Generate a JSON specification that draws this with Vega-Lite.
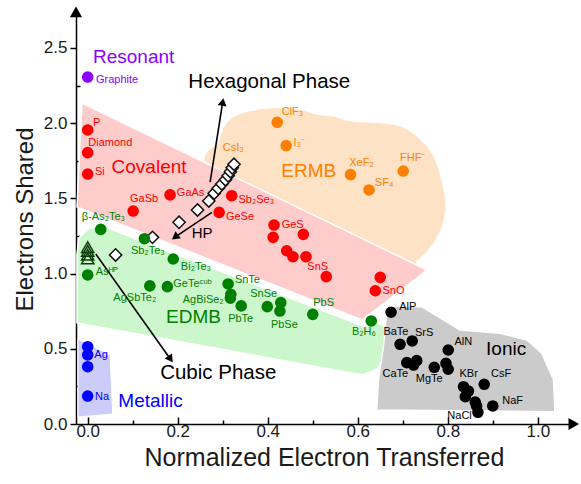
{
  "$schema": "https://vega.github.io/schema/vega-lite/v6.json",
  "width": 496,
  "height": 410,
  "autosize": {"type": "none"},
  "padding": {"left": 76, "top": 14, "right": 9, "bottom": 60},
  "background": "white",
  "config": {
    "font": "Liberation Sans",
    "view": {"stroke": null},
    "axis": {"grid": false, "zindex": 1, "domainColor": "black", "domainWidth": 1.5, "tickColor": "black", "tickWidth": 1.5, "labelColor": "#1a1a1a", "titleColor": "#1a1a1a", "labelFont": "Liberation Sans", "titleFont": "Liberation Sans", "titleFontWeight": "normal"}
  },
  "datasets": {
    "regions": [
      {"r": "orange", "o": 1, "x": 0.2896, "y": 1.656},
      {"r": "orange", "o": 2, "x": 0.294, "y": 1.888},
      {"r": "orange", "o": 3, "x": 0.316, "y": 2.021},
      {"r": "orange", "o": 4, "x": 0.361, "y": 2.077},
      {"r": "orange", "o": 5, "x": 0.42, "y": 2.099},
      {"r": "orange", "o": 6, "x": 0.472, "y": 2.088},
      {"r": "orange", "o": 7, "x": 0.509, "y": 2.055},
      {"r": "orange", "o": 8, "x": 0.546, "y": 2.043},
      {"r": "orange", "o": 9, "x": 0.583, "y": 2.01},
      {"r": "orange", "o": 10, "x": 0.642, "y": 1.999},
      {"r": "orange", "o": 11, "x": 0.694, "y": 1.977},
      {"r": "orange", "o": 12, "x": 0.731, "y": 1.91},
      {"r": "orange", "o": 13, "x": 0.768, "y": 1.777},
      {"r": "orange", "o": 14, "x": 0.79, "y": 1.556},
      {"r": "orange", "o": 15, "x": 0.794, "y": 1.423},
      {"r": "orange", "o": 16, "x": 0.783, "y": 1.29},
      {"r": "orange", "o": 17, "x": 0.761, "y": 1.179},
      {"r": "orange", "o": 18, "x": 0.731, "y": 1.09},
      {"r": "orange", "o": 19, "x": 0.694, "y": 1.057},
      {"r": "red", "o": 1, "x": -0.0127, "y": 2.134},
      {"r": "red", "o": 2, "x": 0.754, "y": 1.024},
      {"r": "red", "o": 3, "x": 0.6096, "y": 0.6915},
      {"r": "red", "o": 4, "x": -0.0238, "y": 1.443},
      {"r": "green", "o": 1, "x": -0.024, "y": 1.124},
      {"r": "green", "o": 2, "x": -0.0193, "y": 1.237},
      {"r": "green", "o": 3, "x": 0.0007, "y": 1.297},
      {"r": "green", "o": 4, "x": 0.0273, "y": 1.323},
      {"r": "green", "o": 5, "x": 0.6162, "y": 0.645},
      {"r": "green", "o": 6, "x": 0.6407, "y": 0.678},
      {"r": "green", "o": 7, "x": 0.6584, "y": 0.652},
      {"r": "green", "o": 8, "x": 0.6629, "y": 0.559},
      {"r": "green", "o": 9, "x": 0.6584, "y": 0.439},
      {"r": "green", "o": 10, "x": 0.6429, "y": 0.366},
      {"r": "green", "o": 11, "x": 0.6096, "y": 0.326},
      {"r": "green", "o": 12, "x": -0.024, "y": 0.672},
      {"r": "gray", "o": 1, "x": 0.668, "y": 0.785},
      {"r": "gray", "o": 2, "x": 0.742, "y": 0.78},
      {"r": "gray", "o": 3, "x": 0.827, "y": 0.625},
      {"r": "gray", "o": 4, "x": 0.916, "y": 0.603},
      {"r": "gray", "o": 5, "x": 0.976, "y": 0.559},
      {"r": "gray", "o": 6, "x": 1.009, "y": 0.47},
      {"r": "gray", "o": 7, "x": 1.035, "y": 0.293},
      {"r": "gray", "o": 8, "x": 1.038, "y": 0.082},
      {"r": "gray", "o": 9, "x": 0.642, "y": 0.093},
      {"r": "gray", "o": 10, "x": 0.646, "y": 0.293},
      {"r": "gray", "o": 11, "x": 0.657, "y": 0.514},
      {"r": "gray", "o": 12, "x": 0.664, "y": 0.736},
      {"r": "blue", "o": 1, "x": -0.0216, "y": 0.565},
      {"r": "blue", "o": 2, "x": 0.0496, "y": 0.459},
      {"r": "blue", "o": 3, "x": 0.0556, "y": 0.0665},
      {"r": "blue", "o": 4, "x": -0.0216, "y": 0.0465}
    ],
    "points": [
      {"g": "Resonant", "x": 0, "y": 2.307},
      {"g": "Covalent", "x": 0, "y": 1.955},
      {"g": "Covalent", "x": 0, "y": 1.804},
      {"g": "Covalent", "x": 0, "y": 1.662},
      {"g": "Covalent", "x": 0.101, "y": 1.416},
      {"g": "Covalent", "x": 0.183, "y": 1.523},
      {"g": "Covalent", "x": 0.32, "y": 1.518},
      {"g": "Covalent", "x": 0.292, "y": 1.407},
      {"g": "Covalent", "x": 0.414, "y": 1.323},
      {"g": "Covalent", "x": 0.412, "y": 1.241},
      {"g": "Covalent", "x": 0.479, "y": 1.261},
      {"g": "Covalent", "x": 0.442, "y": 1.152},
      {"g": "Covalent", "x": 0.456, "y": 1.112},
      {"g": "Covalent", "x": 0.485, "y": 1.112},
      {"g": "Covalent", "x": 0.53, "y": 0.98},
      {"g": "Covalent", "x": 0.65, "y": 0.975},
      {"g": "Covalent", "x": 0.639, "y": 0.886},
      {"g": "ERMB", "x": 0.421, "y": 2.006},
      {"g": "ERMB", "x": 0.441, "y": 1.851},
      {"g": "ERMB", "x": 0.584, "y": 1.658},
      {"g": "ERMB", "x": 0.625, "y": 1.556},
      {"g": "ERMB", "x": 0.701, "y": 1.682},
      {"g": "EDMB", "x": 0.029, "y": 1.294},
      {"g": "EDMB", "x": 0, "y": 0.991},
      {"g": "EDMB", "x": 0.126, "y": 1.232},
      {"g": "EDMB", "x": 0.19, "y": 1.097},
      {"g": "EDMB", "x": 0.138, "y": 0.918},
      {"g": "EDMB", "x": 0.177, "y": 0.913},
      {"g": "EDMB", "x": 0.312, "y": 0.931},
      {"g": "EDMB", "x": 0.318, "y": 0.862},
      {"g": "EDMB", "x": 0.317, "y": 0.836},
      {"g": "EDMB", "x": 0.341, "y": 0.785},
      {"g": "EDMB", "x": 0.399, "y": 0.78},
      {"g": "EDMB", "x": 0.429, "y": 0.807},
      {"g": "EDMB", "x": 0.427, "y": 0.751},
      {"g": "EDMB", "x": 0.5, "y": 0.729},
      {"g": "EDMB", "x": 0.63, "y": 0.685},
      {"g": "Metallic", "x": 0, "y": 0.514},
      {"g": "Metallic", "x": 0, "y": 0.459},
      {"g": "Metallic", "x": 0, "y": 0.381},
      {"g": "Metallic", "x": 0, "y": 0.186},
      {"g": "Ionic", "x": 0.674, "y": 0.743},
      {"g": "Ionic", "x": 0.694, "y": 0.53},
      {"g": "Ionic", "x": 0.721, "y": 0.552},
      {"g": "Ionic", "x": 0.709, "y": 0.408},
      {"g": "Ionic", "x": 0.731, "y": 0.421},
      {"g": "Ionic", "x": 0.724, "y": 0.392},
      {"g": "Ionic", "x": 0.801, "y": 0.492},
      {"g": "Ionic", "x": 0.796, "y": 0.403},
      {"g": "Ionic", "x": 0.801, "y": 0.364},
      {"g": "Ionic", "x": 0.77, "y": 0.377},
      {"g": "Ionic", "x": 0.835, "y": 0.248},
      {"g": "Ionic", "x": 0.846, "y": 0.219},
      {"g": "Ionic", "x": 0.839, "y": 0.182},
      {"g": "Ionic", "x": 0.861, "y": 0.146},
      {"g": "Ionic", "x": 0.864, "y": 0.12},
      {"g": "Ionic", "x": 0.867, "y": 0.078},
      {"g": "Ionic", "x": 0.881, "y": 0.264},
      {"g": "Ionic", "x": 0.9, "y": 0.12}
    ],
    "labels": [
      {"g": "Resonant", "t": "Graphite", "x": 0.0184, "y": 2.287},
      {"g": "Covalent", "t": "P", "x": 0.0118, "y": 2.003},
      {"g": "Covalent", "t": "Diamond", "x": 0.0013, "y": 1.87},
      {"g": "Covalent", "t": "Si", "x": 0.0162, "y": 1.678},
      {"g": "Covalent", "t": "GaSb", "x": 0.094, "y": 1.496},
      {"g": "Covalent", "t": "GaAs", "x": 0.198, "y": 1.534},
      {"g": "Covalent", "t": "Sb₂Se₃", "x": 0.335, "y": 1.489},
      {"g": "Covalent", "t": "GeSe", "x": 0.307, "y": 1.374},
      {"g": "Covalent", "t": "GeS", "x": 0.431, "y": 1.323},
      {"g": "Covalent", "t": "SnS", "x": 0.488, "y": 1.046},
      {"g": "Covalent", "t": "SnO", "x": 0.655, "y": 0.884},
      {"g": "ERMB", "t": "CsI₃", "x": 0.3, "y": 1.833},
      {"g": "ERMB", "t": "ClF₃", "x": 0.431, "y": 2.076},
      {"g": "ERMB", "t": "I₃⁻", "x": 0.457, "y": 1.866},
      {"g": "ERMB", "t": "XeF₂", "x": 0.581, "y": 1.733},
      {"g": "ERMB", "t": "SF₄", "x": 0.638, "y": 1.6},
      {"g": "ERMB", "t": "FHF⁻", "x": 0.694, "y": 1.767},
      {"g": "EDMB", "t": "β-As₂Te₃", "x": -0.013, "y": 1.374},
      {"g": "EDMB", "t": "Asᴴᴾ", "x": 0.018, "y": 1.013},
      {"g": "EDMB", "t": "Sb₂Te₃", "x": 0.096, "y": 1.149},
      {"g": "EDMB", "t": "Bi₂Te₃", "x": 0.207, "y": 1.042},
      {"g": "EDMB", "t": "AgSbTe₂", "x": 0.057, "y": 0.836},
      {"g": "EDMB", "t": "GeTeᶜᵘᵇ", "x": 0.19, "y": 0.931},
      {"g": "EDMB", "t": "SnTe", "x": 0.327, "y": 0.957},
      {"g": "EDMB", "t": "AgBiSe₂", "x": 0.211, "y": 0.824},
      {"g": "EDMB", "t": "PbTe", "x": 0.312, "y": 0.696},
      {"g": "EDMB", "t": "SnSe", "x": 0.361, "y": 0.862},
      {"g": "EDMB", "t": "PbSe", "x": 0.407, "y": 0.658},
      {"g": "EDMB", "t": "PbS", "x": 0.501, "y": 0.803},
      {"g": "EDMB", "t": "B₂H₆", "x": 0.587, "y": 0.614},
      {"g": "Metallic", "t": "Ag", "x": 0.0147, "y": 0.459},
      {"g": "Metallic", "t": "Na", "x": 0.0162, "y": 0.182},
      {"g": "Ionic", "t": "AlP", "x": 0.692, "y": 0.78},
      {"g": "Ionic", "t": "BaTe", "x": 0.657, "y": 0.614},
      {"g": "Ionic", "t": "SrS", "x": 0.727, "y": 0.607},
      {"g": "Ionic", "t": "CaTe", "x": 0.655, "y": 0.33},
      {"g": "Ionic", "t": "MgTe", "x": 0.729, "y": 0.299},
      {"g": "Ionic", "t": "AlN", "x": 0.815, "y": 0.547},
      {"g": "Ionic", "t": "KBr", "x": 0.826, "y": 0.33},
      {"g": "Ionic", "t": "CsF", "x": 0.896, "y": 0.332},
      {"g": "Ionic", "t": "NaF", "x": 0.921, "y": 0.155},
      {"g": "Ionic", "t": "NaCl", "x": 0.799, "y": 0.053}
    ],
    "titles": [
      {"g": "Resonant", "t": "Resonant", "x": 0.0118, "y": 2.442},
      {"g": "Covalent", "t": "Covalent", "x": 0.053, "y": 1.711},
      {"g": "ERMB", "t": "ERMB", "x": 0.43, "y": 1.682},
      {"g": "EDMB", "t": "EDMB", "x": 0.174, "y": 0.711},
      {"g": "Metallic", "t": "Metallic", "x": 0.068, "y": 0.155},
      {"g": "Ionic", "t": "Ionic", "x": 0.885, "y": 0.499}
    ],
    "phases": [
      {"g": "Note", "t": "Hexagonal Phase", "x": 0.2236, "y": 2.276},
      {"g": "Note", "t": "Cubic Phase", "x": 0.161, "y": 0.337}
    ],
    "hp": [
      {"g": "Note", "t": "HP", "x": 0.231, "y": 1.268}
    ],
    "triangles": [
      {"x": 0, "y": 1.176},
      {"x": 0, "y": 1.151},
      {"x": 0, "y": 1.125},
      {"x": 0, "y": 1.1}
    ],
    "diamonds": [
      {"x": 0.062, "y": 1.124},
      {"x": 0.144, "y": 1.241},
      {"x": 0.203, "y": 1.341},
      {"x": 0.244, "y": 1.423},
      {"x": 0.269, "y": 1.483},
      {"x": 0.281, "y": 1.534},
      {"x": 0.29, "y": 1.567},
      {"x": 0.298, "y": 1.596},
      {"x": 0.306, "y": 1.624},
      {"x": 0.312, "y": 1.65},
      {"x": 0.317, "y": 1.677},
      {"x": 0.321, "y": 1.703},
      {"x": 0.325, "y": 1.727}
    ],
    "arrows": [
      {"a": "hex", "x": 0.272, "y": 1.609, "x2": 0.3, "y2": 2.141},
      {"a": "hp", "x": 0.276, "y": 1.407, "x2": 0.194, "y2": 1.243},
      {"a": "cubic", "x": 0.018, "y": 1.13, "x2": 0.184, "y2": 0.431}
    ],
    "axisends": [
      {"a": "y", "x": -0.026, "y": 2.74},
      {"a": "x", "x": 1.08, "y": 0}
    ]
  },
  "encoding": {
    "x": {
      "field": "x", "type": "quantitative",
      "scale": {"domain": [-0.026, 1.076], "nice": false, "zero": false},
      "axis": {
        "title": "Normalized Electron Transferred",
        "titleFontSize": 25, "titlePadding": 6,
        "values": [0, 0.1, 0.2, 0.3, 0.4, 0.5, 0.6, 0.7, 0.8, 0.9, 1.0],
        "format": ".1f",
        "labelExpr": "abs(datum.value*5 - round(datum.value*5)) > 0.01 ? '' : datum.label",
        "labelFontSize": 17,
        "labelPadding": 6,
        "tickSize": {"condition": {"test": "abs(datum.value*5 - round(datum.value*5)) > 0.01", "value": -4}, "value": -7}
      }
    },
    "y": {
      "field": "y", "type": "quantitative",
      "scale": {"domain": [0, 2.726], "nice": false, "zero": false},
      "axis": {
        "title": "Electrons Shared",
        "titleFontSize": 24, "titlePadding": 6,
        "values": [0, 0.25, 0.5, 0.75, 1.0, 1.25, 1.5, 1.75, 2.0, 2.25, 2.5],
        "format": ".1f",
        "labelExpr": "abs(datum.value*2 - round(datum.value*2)) > 0.01 ? '' : datum.label",
        "labelFontSize": 17,
        "labelPadding": 3,
        "tickSize": {"condition": {"test": "abs(datum.value*2 - round(datum.value*2)) > 0.01", "value": -4}, "value": 6}
      }
    }
  },
  "layer": [
    {"data": {"name": "regions"}, "transform": [{"filter": "datum.r === 'orange'"}],
     "mark": {"type": "line", "interpolate": "cardinal-closed", "fill": "#fde2c6", "stroke": "#fde2c6", "strokeWidth": 0.5},
     "encoding": {"order": {"field": "o", "type": "quantitative"}}},
    {"data": {"name": "regions"}, "transform": [{"filter": "datum.r === 'red'"}],
     "mark": {"type": "line", "interpolate": "linear-closed", "fill": "#ffcccc", "stroke": "white", "strokeWidth": 1.5},
     "encoding": {"order": {"field": "o", "type": "quantitative"}}},
    {"data": {"name": "regions"}, "transform": [{"filter": "datum.r === 'green'"}],
     "mark": {"type": "line", "interpolate": "linear-closed", "fill": "#ccf7cc", "stroke": "white", "strokeWidth": 1.5},
     "encoding": {"order": {"field": "o", "type": "quantitative"}}},
    {"data": {"name": "regions"}, "transform": [{"filter": "datum.r === 'gray'"}],
     "mark": {"type": "line", "interpolate": "linear-closed", "fill": "#cbcbcb", "stroke": "white", "strokeWidth": 1.5},
     "encoding": {"order": {"field": "o", "type": "quantitative"}}},
    {"data": {"name": "regions"}, "transform": [{"filter": "datum.r === 'blue'"}],
     "mark": {"type": "line", "interpolate": "linear-closed", "fill": "#ccccfa", "stroke": "white", "strokeWidth": 1},
     "encoding": {"order": {"field": "o", "type": "quantitative"}}},
    {"data": {"name": "arrows"},
     "mark": {"type": "rule", "color": "black", "strokeWidth": 1.6},
     "encoding": {"x2": {"field": "x2"}, "y2": {"field": "y2"}}},
    {"data": {"name": "arrows"}, "transform": [{"filter": "datum.a === 'hex'"}],
     "mark": {"type": "point", "shape": "triangle-up", "filled": true, "color": "black", "size": 80, "angle": 9, "opacity": 1},
     "encoding": {"x": {"field": "x2", "type": "quantitative"}, "y": {"field": "y2", "type": "quantitative"}}},
    {"data": {"name": "arrows"}, "transform": [{"filter": "datum.a === 'hp'"}],
     "mark": {"type": "point", "shape": "triangle-up", "filled": true, "color": "black", "size": 80, "angle": 233, "opacity": 1},
     "encoding": {"x": {"field": "x2", "type": "quantitative"}, "y": {"field": "y2", "type": "quantitative"}}},
    {"data": {"name": "arrows"}, "transform": [{"filter": "datum.a === 'cubic'"}],
     "mark": {"type": "point", "shape": "triangle-up", "filled": true, "color": "black", "size": 80, "angle": 145, "opacity": 1},
     "encoding": {"x": {"field": "x2", "type": "quantitative"}, "y": {"field": "y2", "type": "quantitative"}}},
    {"data": {"name": "axisends"}, "transform": [{"filter": "datum.a === 'y'"}],
     "mark": {"type": "point", "shape": "triangle-up", "filled": true, "color": "black", "size": 150, "opacity": 1, "clip": false},
     "encoding": {}},
    {"data": {"name": "axisends"}, "transform": [{"filter": "datum.a === 'x'"}],
     "mark": {"type": "point", "shape": "triangle-right", "filled": true, "color": "black", "size": 150, "opacity": 1, "clip": false},
     "encoding": {}},
    {"data": {"name": "triangles"},
     "mark": {"type": "point", "shape": "triangle-up", "filled": false, "stroke": "#0b3d0b", "strokeWidth": 1.5, "size": 150, "opacity": 1},
     "encoding": {}},
    {"data": {"name": "diamonds"},
     "mark": {"type": "point", "shape": "diamond", "filled": true, "fill": "white", "stroke": "#111111", "strokeWidth": 1.5, "size": 150, "opacity": 1},
     "encoding": {}},
    {"data": {"name": "points"},
     "mark": {"type": "circle", "size": 135, "opacity": 1},
     "encoding": {"color": {"field": "g", "type": "nominal", "legend": null,
        "scale": {"domain": ["Resonant", "Covalent", "ERMB", "EDMB", "Metallic", "Ionic", "Note"],
                  "range": ["#8b00ff", "#ff0000", "#ff8000", "#008000", "#0000ff", "#000000", "#000000"]}}}},
    {"data": {"name": "labels"},
     "mark": {"type": "text", "align": "left", "baseline": "middle", "fontSize": 11, "font": "Liberation Sans"},
     "encoding": {"text": {"field": "t"}, "color": {"field": "g", "type": "nominal", "legend": null}}},
    {"data": {"name": "titles"},
     "mark": {"type": "text", "align": "left", "baseline": "middle", "fontSize": 19, "font": "Liberation Sans"},
     "encoding": {"text": {"field": "t"}, "color": {"field": "g", "type": "nominal", "legend": null}}},
    {"data": {"name": "phases"},
     "mark": {"type": "text", "align": "left", "baseline": "middle", "fontSize": 20.5, "font": "Liberation Sans"},
     "encoding": {"text": {"field": "t"}, "color": {"field": "g", "type": "nominal", "legend": null}}},
    {"data": {"name": "hp"},
     "mark": {"type": "text", "align": "left", "baseline": "middle", "fontSize": 15, "font": "Liberation Sans"},
     "encoding": {"text": {"field": "t"}, "color": {"field": "g", "type": "nominal", "legend": null}}}
  ]
}
